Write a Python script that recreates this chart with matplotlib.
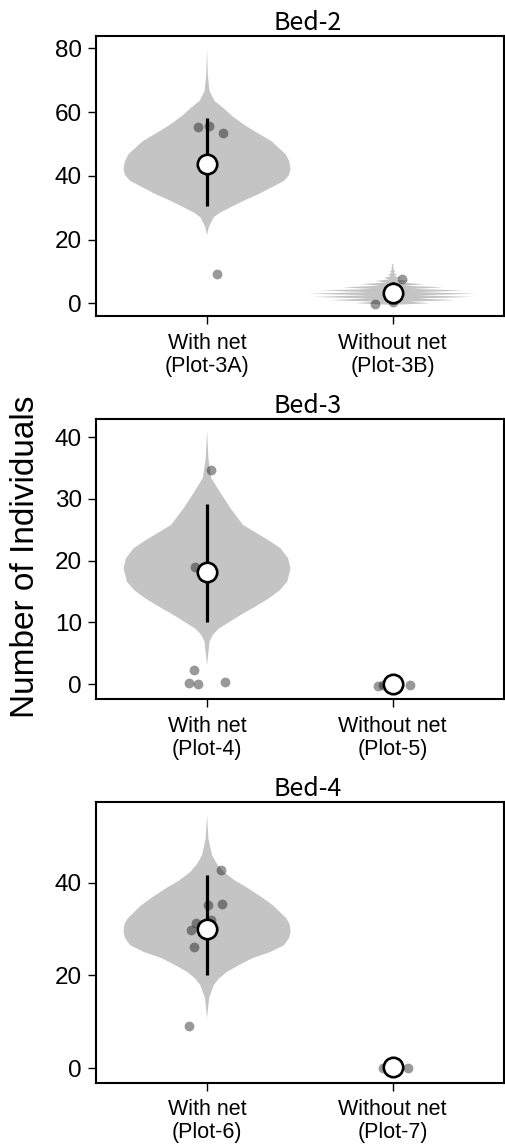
import numpy as np
import matplotlib
matplotlib.use("Agg")
import matplotlib.pyplot as plt

# panel titles, category labels, axis settings
titles = ["Bed-2", "Bed-3", "Bed-4"]
xlabels = [["With net\n(Plot-3A)", "Without net\n(Plot-3B)"],
           ["With net\n(Plot-4)", "Without net\n(Plot-5)"],
           ["With net\n(Plot-6)", "Without net\n(Plot-7)"]]
ylims = [(-4, 84), (-2.4, 43), (-3.1, 57.3)]
yticks = [[0, 20, 40, 60, 80], [0, 10, 20, 30, 40], [0, 20, 40]]

# posterior summaries (mean, lower, upper) for with / without net
means = [[43.6, 3.3], [18.1, 0.0], [29.9, 0.3]]
lows = [[30.4, 0.5], [10.0, 0.0], [20.1, 0.3]]
highs = [[58.2, 6.6], [29.2, 0.0], [41.6, 0.3]]

# violin profiles (value, relative half-width)
v1_y = [21.3, 23.9, 27.0, 28.5, 30.1, 32.2, 34.3, 38.4, 40.2, 42.1, 44.5, 46.8, 50.9,
        53.5, 56.1, 58.8, 61.4, 63.5, 66.6, 71.5, 79.6]
v1_w = [0.0, 0.02, 0.08, 0.16, 0.28, 0.44, 0.62, 0.92, 0.98, 1.0, 0.985, 0.94, 0.77,
        0.6, 0.44, 0.3, 0.19, 0.09, 0.03, 0.01, 0.0]
# discrete-looking violin for Plot-3B: peaks at integers, dips between
v2_y = [-0.5, 0, 0.5, 1, 1.5, 2, 2.5, 3, 3.5, 4, 4.5, 5, 5.5, 6, 6.5, 7, 7.5, 8,
        8.5, 9, 9.5, 10, 10.5, 11, 11.5, 12, 12.5]
v2_w = [0.0, 0.45, 0.2, 0.75, 0.3, 0.95, 0.3, 1.0, 0.3, 0.85, 0.25, 0.6, 0.15, 0.38,
        0.08, 0.2, 0.04, 0.1, 0.02, 0.05, 0.012, 0.03, 0.008, 0.015, 0.005, 0.01, 0.0]
v3_y = [3.1, 6.9, 8.0, 9.0, 10.0, 11.2, 12.5, 13.9, 15.2, 16.6, 18.8, 20.4, 22.0,
        23.1, 25.8, 28.5, 31.2, 33.4, 36.6, 41.0]
v3_w = [0.0, 0.03, 0.07, 0.14, 0.26, 0.4, 0.57, 0.74, 0.87, 0.96, 1.0, 0.97, 0.88,
        0.76, 0.43, 0.28, 0.15, 0.05, 0.016, 0.0]
v4_y = [10.8, 15.1, 17.9, 19.3, 20.8, 22.2, 23.7, 25.0, 26.5, 28.0, 29.4, 31.0, 32.3,
        35.1, 36.9, 38.7, 40.5, 42.3, 44.0, 45.9, 49.5, 54.5]
v4_w = [0.0, 0.024, 0.08, 0.14, 0.24, 0.38, 0.54, 0.75, 0.92, 0.98, 1.0, 0.99, 0.95,
        0.79, 0.65, 0.5, 0.33, 0.2, 0.12, 0.06, 0.016, 0.0]
violins = [[(v1_y, v1_w), (v2_y, v2_w)], [(v3_y, v3_w), None], [(v4_y, v4_w), None]]

# raw counts (x offset from category centre, value)
pts = [
    [([-0.051, 0.009, 0.086, 0.054], [55.3, 55.5, 53.3, 9.1]),
     ([0.05, -0.095, 0.0], [7.5, -0.1, 0.4])],
    [([0.023, -0.063, -0.072, -0.095, -0.048, 0.098], [34.7, 18.9, 2.3, 0.2, 0.0, 0.3]),
     ([-0.077, -0.05, -0.025, 0.094], [-0.3, -0.2, -0.1, -0.1])],
    [([0.075, 0.005, 0.08, -0.058, 0.023, -0.088, -0.068, -0.095],
      [42.8, 35.1, 35.5, 31.2, 31.9, 29.7, 26.2, 9.2]),
     ([-0.054, 0.084, -0.02], [0.1, 0.0, 0.0])],
]

plt.rcParams['font.family'] = ['Liberation Sans', 'DejaVu Sans']

fig = plt.figure(figsize=(5.06, 11.47), dpi=100)
bottoms = [0.7245, 0.3906, 0.0561]
pos = [1, 2]

for i in range(3):
    ax = fig.add_axes([0.1891, bottoms[i], 0.807, 0.2444])
    for j in range(2):
        if violins[i][j] is not None:
            yy, ww = violins[i][j]
            st = {'coords': np.array(yy), 'vals': np.array(ww),
                  'mean': means[i][j], 'median': means[i][j],
                  'min': yy[0], 'max': yy[-1]}
            parts = ax.violin([st], positions=[pos[j]], widths=0.9,
                              showmeans=False, showextrema=False)
            for b in parts['bodies']:
                b.set_facecolor('#c4c4c4')
                b.set_edgecolor('none')
                b.set_alpha(1)
        dx, dv = pts[i][j]
        ax.scatter(pos[j] + np.array(dx), dv, s=50, color='black', alpha=0.4,
                   linewidths=0, zorder=3)
        ax.plot([pos[j], pos[j]], [lows[i][j], highs[i][j]], color='black',
                lw=2.3, solid_capstyle='butt', zorder=4)
        ax.plot(pos[j], means[i][j], 'o', ms=14, mfc='white', mec='black',
                mew=1.9, zorder=5)

    ax.set_xlim(0.4, 2.6)
    ax.set_ylim(*ylims[i])
    ax.set_yticks(yticks[i])
    ax.set_xticks(pos)
    ax.set_xticklabels(xlabels[i], fontsize=15.5, linespacing=1.12)
    ax.tick_params(axis='y', labelsize=17.5, length=6, width=1, pad=4)
    ax.tick_params(axis='x', length=6, width=1, pad=6)
    for sp in ax.spines.values():
        sp.set_linewidth(1.5)
    ax.set_title(titles[i], x=0.518, fontsize=18, pad=4,
                 family=['Noto Sans CJK JP', 'DejaVu Sans'])

fig.text(0.05, 0.515, "Number of Individuals", rotation=90, fontsize=24,
         ha='center', va='center')

fig.savefig("out.png", dpi=100)
